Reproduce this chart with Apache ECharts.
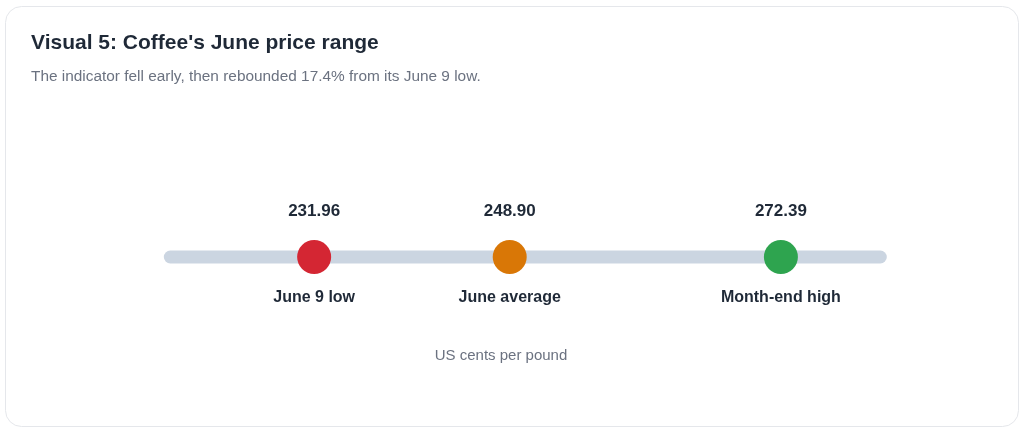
<!DOCTYPE html>
<html>
<head>
<meta charset="utf-8">
<script src="https://cdn.jsdelivr.net/npm/echarts@6/dist/echarts.min.js"></script>
<style>
html,body{margin:0;padding:0;background:#fff;}
#chart{width:1024px;height:430px;}
</style>
</head>
<body>
<div id="chart"></div>
<script>
const titleText = "Visual 5: Coffee's June price range";
const subtitleText = "The indicator fell early, then rebounded 17.4% from its June 9 low.";
const unitText = "US cents per pound";
const pointNames = ["June 9 low", "June average", "Month-end high"];
const pointValues = [231.96, 248.90, 272.39];
const pointColors = ["#d42633", "#d97706", "#2ea44f"];
const trackRange = [219.5, 281];

const FONT = "'Liberation Sans', Arial, Helvetica, sans-serif";
const dark = "#1f2937";
const gray = "#6b7280";

const chart = echarts.init(document.getElementById('chart'), null, {renderer: 'canvas'});

const dotData = pointValues.map((v, i) => ({
  value: [v, 0],
  name: pointNames[i],
  itemStyle: {color: pointColors[i], opacity: 1}
}));

const option = {
  animation: false,
  backgroundColor: '#ffffff',
  grid: {left: 170.3, right: 143.7, top: 157, bottom: 73},
  xAxis: {type: 'value', min: trackRange[0], max: trackRange[1], show: false},
  yAxis: {type: 'value', min: -1, max: 1, show: false},
  graphic: [
    {type: 'rect', z: -10, silent: true,
     shape: {x: 5.5, y: 6.5, width: 1013, height: 420, r: 16},
     style: {fill: '#ffffff', stroke: '#e5e7eb', lineWidth: 1}},
    {type: 'text', x: 31, y: 43, silent: true,
     style: {text: titleText, font: "bold 21px " + FONT, fill: dark, textVerticalAlign: 'middle'}},
    {type: 'text', x: 31, y: 77, silent: true,
     style: {text: subtitleText, font: "15.4px " + FONT, fill: gray, textVerticalAlign: 'middle'}},
    {type: 'text', x: 501, y: 355.5, silent: true,
     style: {text: unitText, font: "15px " + FONT, fill: gray, textAlign: 'center', textVerticalAlign: 'middle'}}
  ],
  series: [
    {
      type: 'line', silent: true, symbol: 'none', z: 1,
      data: [[trackRange[0], 0], [trackRange[1], 0]],
      lineStyle: {color: '#cbd5e1', width: 13, cap: 'round', opacity: 1}
    },
    {
      type: 'scatter', silent: true, z: 3, symbol: 'circle', symbolSize: 34,
      itemStyle: {opacity: 1},
      data: dotData,
      label: {
        show: true, position: 'inside', offset: [0, -46], opacity: 1,
        formatter: p => p.value[0].toFixed(2),
        fontFamily: FONT, fontWeight: 'bold', fontSize: 17, color: dark
      }
    },
    {
      type: 'scatter', silent: true, z: 2, symbol: 'circle', symbolSize: 1,
      itemStyle: {color: '#ffffff', opacity: 1},
      data: dotData.map(d => ({value: d.value, name: d.name, itemStyle: {color: '#ffffff', opacity: 0.001}})),
      label: {
        show: true, position: 'inside', offset: [0, 41], opacity: 1,
        formatter: p => p.name,
        fontFamily: FONT, fontWeight: 'bold', fontSize: 16, color: dark
      }
    }
  ]
};
chart.setOption(option);
</script>
</body>
</html>
